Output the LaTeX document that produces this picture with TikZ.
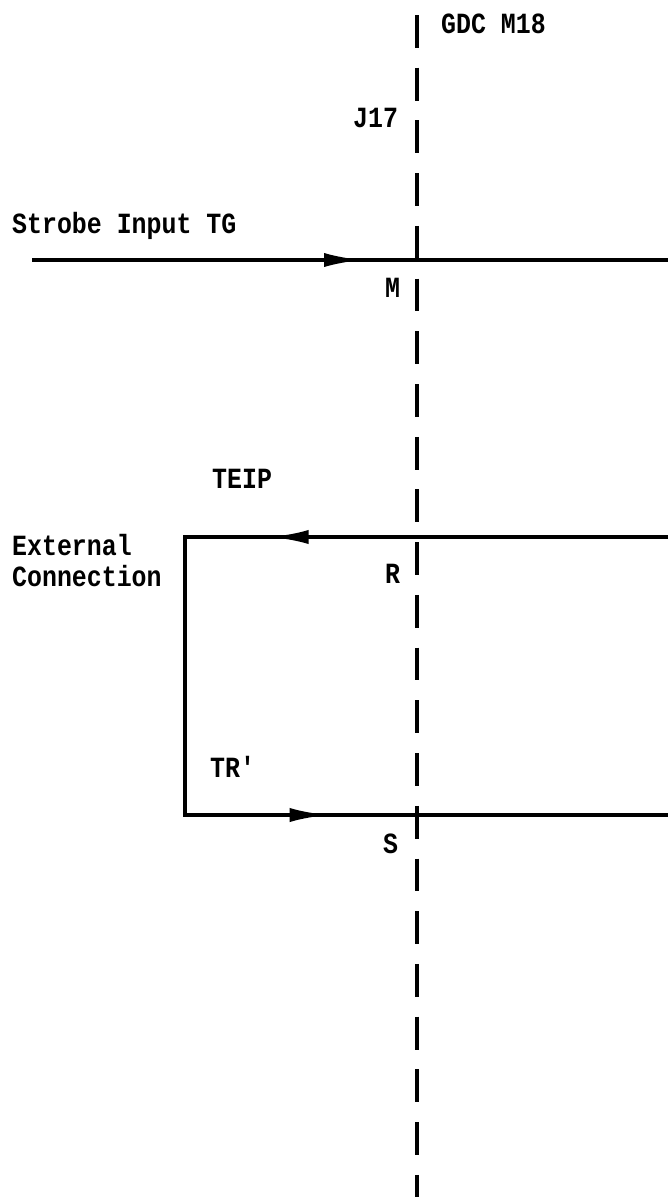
\documentclass[tikz,border=0pt]{standalone}
\usepackage{fontspec}
\setmonofont{Liberation Mono}[FakeStretch=0.85]
\usetikzlibrary{arrows.meta, decorations.markings}

\begin{document}
\begin{tikzpicture}[x=0.03cm, y=-0.03cm,
  lbl/.style={anchor=base west, inner sep=0pt, font=\ttfamily\bfseries\fontsize{25}{25}\selectfont},
  wire/.style={line width=3.2pt, line join=miter},
  cut/.style={line width=2.6pt, dash pattern=on 28pt off 17pt},
  flow/.style={postaction={decorate, decoration={markings,
      mark=at position #1 with {\arrow{Latex[length=33pt,width=12pt]}}}}}]
\useasboundingbox (0,0) rectangle (668,1202);
\coordinate (jtop) at (417,15);
\coordinate (jbot) at (417,1197);
\coordinate (tgin) at (32,260);
\coordinate (tgout) at (668,260);
\coordinate (rin) at (668,537);
\coordinate (rc) at (185,537);
\coordinate (sc) at (185,815);
\coordinate (sout) at (668,815);
\draw[cut] (jtop) -- (jbot);
\draw[wire, flow=0.52] (tgin) -- (tgout);
\draw[wire, flow=0.32, flow=0.727] (rin) -- (rc) -- (sc) -- (sout);
\node[lbl] (gdc) at (441,33) {GDC M18};
\node[lbl] (j17) at (353,127) {J17};
\node[lbl] (strobe) at (12,233) {Strobe Input TG};
\node[lbl] (m) at (385,297) {M};
\node[lbl] (teip) at (212,488) {TEIP};
\node[lbl] (ext) at (12,555) {External};
\node[lbl] (conn) at (12,586) {Connection};
\node[lbl] (r) at (385,583) {R};
\node[lbl] (trp) at (210,777) {TR'};
\node[lbl] (s) at (383,853) {S};
\end{tikzpicture}
\end{document}
